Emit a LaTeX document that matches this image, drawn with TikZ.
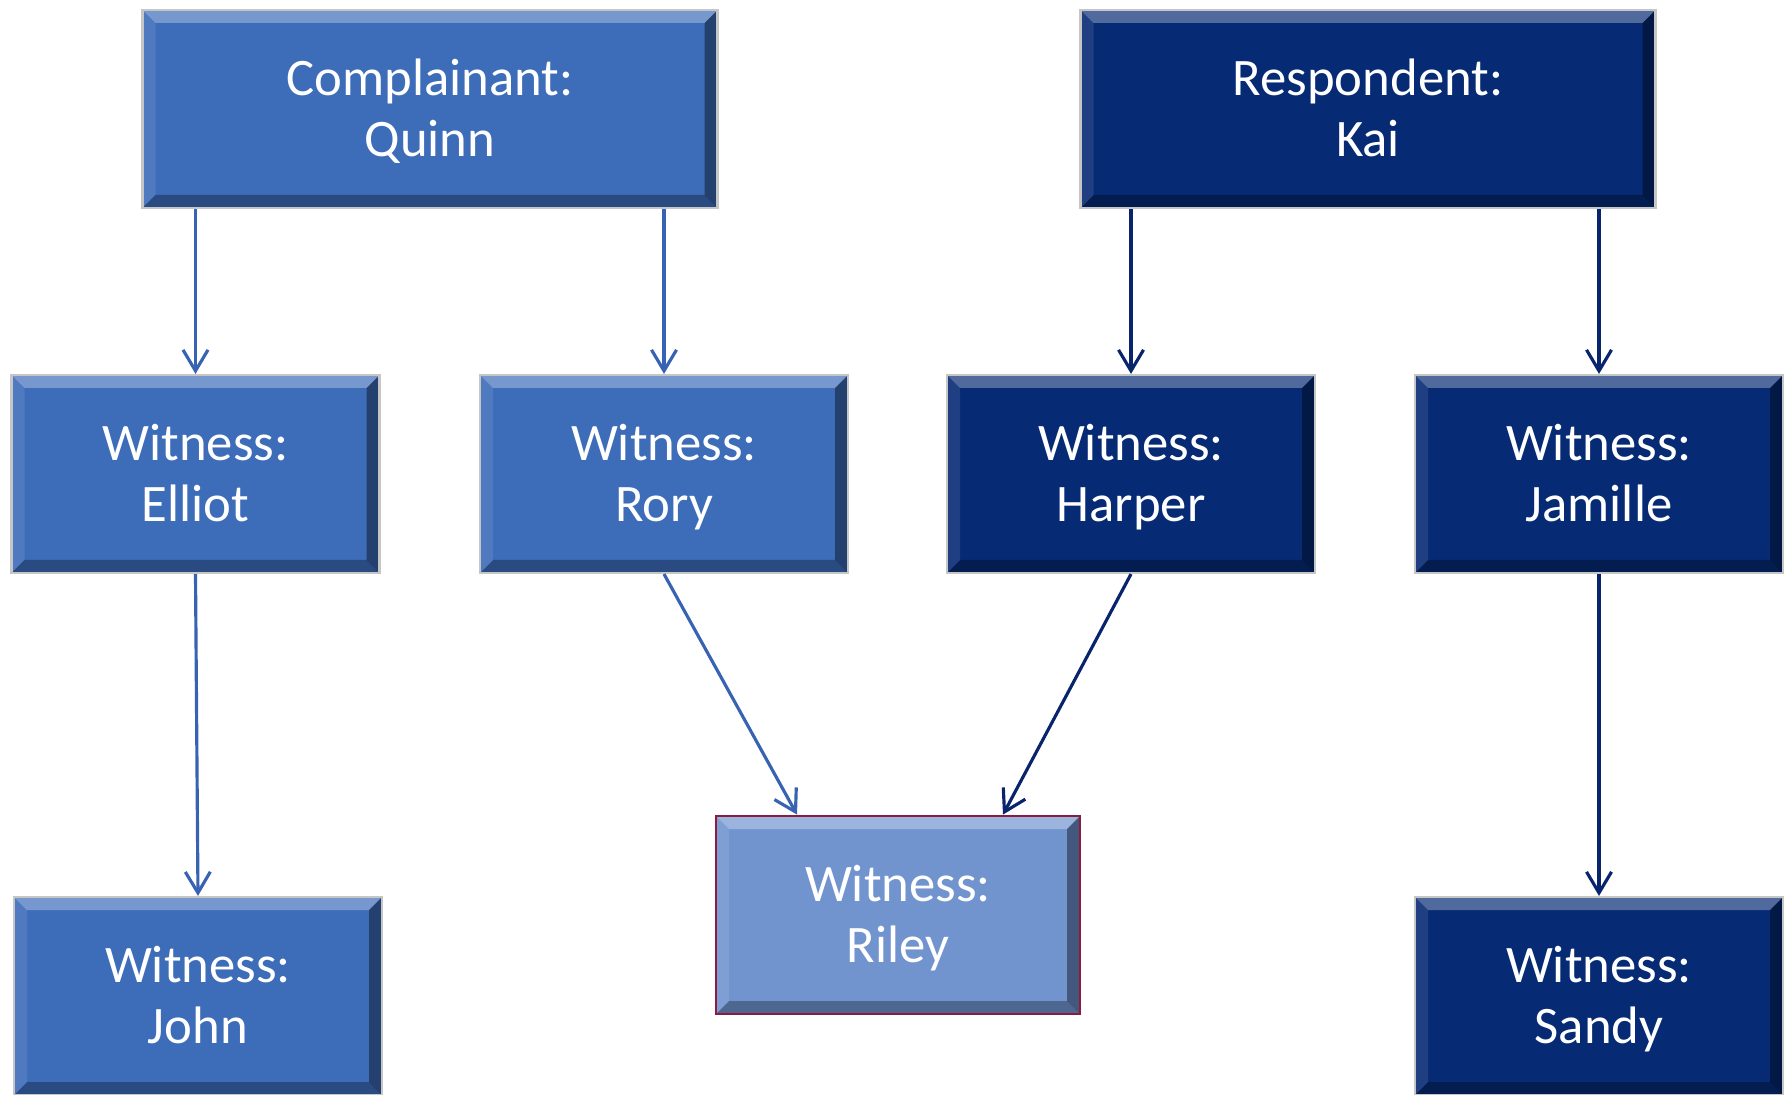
\documentclass[tikz,border=0pt]{standalone}
\usepackage{fontspec}
\setmainfont{Carlito}
\usetikzlibrary{arrows.meta}
\definecolor{complcol}{RGB}{61,108,185}
\definecolor{respcol}{RGB}{6,42,116}
\definecolor{sharedcol}{RGB}{113,148,207}
\definecolor{sharedrim}{RGB}{140,28,62}
\definecolor{complline}{RGB}{56,99,178}
\definecolor{respline}{RGB}{8,36,108}
\newlength{\bevel}
\setlength{\bevel}{0.13cm}

\begin{document}
\begin{tikzpicture}[
bevelled/.style={path picture={
  \fill[white, opacity=0.3] (path picture bounding box.north west) -- (path picture bounding box.north east)
    -- ([shift={(-\bevel,-\bevel)}]path picture bounding box.north east) -- ([shift={(\bevel,-\bevel)}]path picture bounding box.north west) -- cycle;
  \fill[black, opacity=0.3] (path picture bounding box.south west) -- (path picture bounding box.south east)
    -- ([shift={(-\bevel,\bevel)}]path picture bounding box.south east) -- ([shift={(\bevel,\bevel)}]path picture bounding box.south west) -- cycle;
  \fill[black, opacity=0.4] (path picture bounding box.north east) -- (path picture bounding box.south east)
    -- ([shift={(-\bevel,\bevel)}]path picture bounding box.south east) -- ([shift={(-\bevel,-\bevel)}]path picture bounding box.north east) -- cycle;
  \fill[white, opacity=0.1] (path picture bounding box.north west) -- (path picture bounding box.south west)
    -- ([shift={(\bevel,\bevel)}]path picture bounding box.south west) -- ([shift={(\bevel,-\bevel)}]path picture bounding box.north west) -- cycle;
}}, % raised edge of a box
box/.style={bevelled, draw=gray!45, line width=0.6pt, text=white, align=center, inner sep=0pt,
  minimum height=1.98cm, font=\fontsize{15}{17.2}\selectfont,
  text height=32.2pt, text depth=5.2pt}, % my basic box style
compl/.style={box, fill=complcol}, % complainant side
resp/.style={box, fill=respcol}, % respondent side
shared/.style={box, fill=sharedcol, draw=sharedrim, line width=0.8pt}, % witness of both sides
wide/.style={minimum width=5.75cm}, % parties
narrow/.style={minimum width=3.68cm}, % witnesses
link/.style={-{Straight Barb[length=2.1mm,width=2.5mm]}, line width=0.9pt}, % my basic arrow
compllink/.style={link, complline}, % arrows of the complainant side
resplink/.style={link, respline} % arrows of the respondent side
]

\useasboundingbox (0,0) rectangle (17.87,-10.95);

\node[compl, wide] (quinn) at (4.30,-1.09) {Complainant:\\Quinn};
\node[resp, wide] (kai) at (13.68,-1.09) {Respondent:\\Kai};

\node[compl, narrow] (elliot) at (1.955,-4.74) {Witness:\\Elliot};
\node[compl, narrow] (rory) at (6.64,-4.74) {Witness:\\Rory};
\node[resp, narrow] (harper) at (11.31,-4.74) {Witness:\\Harper};
\node[resp, narrow] (jamille) at (15.99,-4.74) {Witness:\\Jamille};

\node[compl, narrow] (john) at (1.98,-9.96) {Witness:\\John};
\node[shared, minimum width=3.64cm] (riley) at (8.98,-9.15) {Witness:\\Riley};
\node[resp, narrow] (sandy) at (15.99,-9.96) {Witness:\\Sandy};

\draw[compllink] (elliot.north |- quinn.south) -- (elliot.north);
\draw[compllink] (rory.north |- quinn.south) -- (rory.north);
\draw[resplink] (harper.north |- kai.south) -- (harper.north);
\draw[resplink] (jamille.north |- kai.south) -- (jamille.north);

\draw[compllink] (elliot.south) -- (john.north);
\draw[compllink] (rory.south) -- ([xshift=-1.01cm]riley.north);
\draw[resplink] (harper.south) -- ([xshift=1.05cm]riley.north);
\draw[resplink] (jamille.south) -- (sandy.north);

\end{tikzpicture}
\end{document}
